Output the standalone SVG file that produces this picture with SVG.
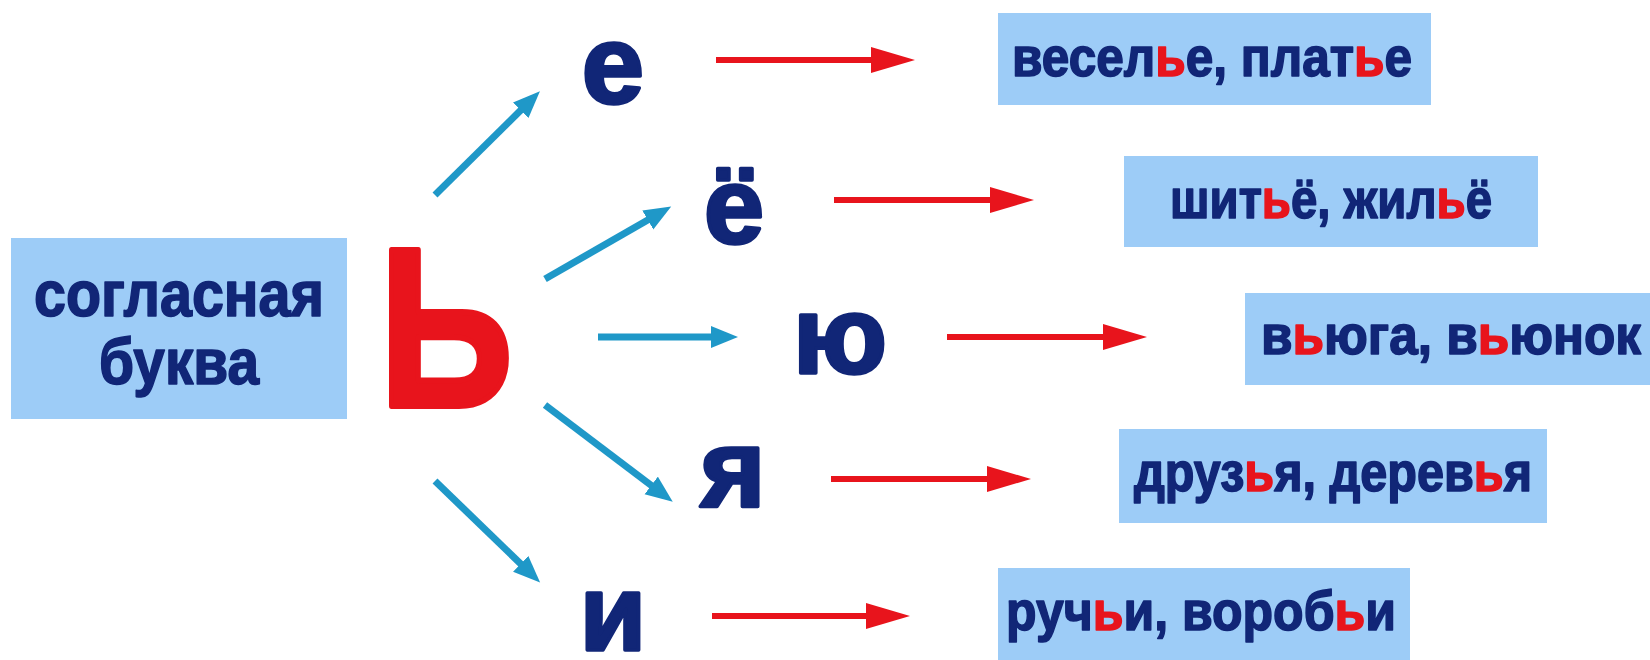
<svg xmlns="http://www.w3.org/2000/svg" width="1650" height="660" viewBox="0 0 1650 660">
<style>
.box{fill:#9DCCF7}
.t{font-family:"Liberation Sans",Arial,sans-serif;font-weight:bold;fill:#112677;stroke:#112677;stroke-width:1.6;stroke-linejoin:round}
.v{stroke-width:3.5}
.r{fill:#E8141C;stroke:#E8141C}
.big{font-family:"Liberation Sans",Arial,sans-serif;font-weight:bold;fill:#E8141C;stroke:#E8141C;stroke-width:6;stroke-linejoin:round}
.blue{stroke:#1F98C8;stroke-width:7;fill:none}
.red{stroke:#E8141C;stroke-width:6;fill:none}
</style>
<defs>
<marker id="hb" markerUnits="userSpaceOnUse" markerWidth="30" markerHeight="24" refX="6" refY="11" orient="auto">
<path d="M0,0 L27,11 L0,22 z" fill="#1F98C8"/>
</marker>
<marker id="hr" markerUnits="userSpaceOnUse" markerWidth="46" markerHeight="30" refX="8" refY="13" orient="auto">
<path d="M0,0 L44,13 L0,26 z" fill="#E8141C"/>
</marker>
</defs>
<rect width="1650" height="660" fill="#FFFFFF"/>

<g id="consonant">
<rect class="box" x="11" y="238" width="336" height="181"/>
<text class="t" x="179" y="316" font-size="64" text-anchor="middle" textLength="290" lengthAdjust="spacingAndGlyphs">согласная</text>
<text class="t" x="179" y="384" font-size="64" text-anchor="middle" textLength="160" lengthAdjust="spacingAndGlyphs">буква</text>
</g>

<g id="soft-sign">
<text class="big" x="446" y="406" font-size="226" text-anchor="middle" textLength="134" lengthAdjust="spacingAndGlyphs">Ь</text>
</g>

<g id="vowel-e"><text class="t v" x="613" y="103" font-size="112" text-anchor="middle">е</text></g>
<g id="vowel-yo"><text class="t v" x="734" y="243" font-size="108" text-anchor="middle">ё</text></g>
<g id="vowel-yu"><text class="t v" x="840" y="373" font-size="110" text-anchor="middle">ю</text></g>
<g id="vowel-ya"><text class="t v" x="733" y="507" font-size="112" text-anchor="middle">я</text></g>
<g id="vowel-i"><text class="t v" x="613" y="650" font-size="108" text-anchor="middle">и</text></g>

<g id="ex-e">
<rect class="box" x="998" y="13" width="433" height="92"/>
<text class="t" x="1212" y="76" font-size="56" text-anchor="middle" textLength="400" lengthAdjust="spacingAndGlyphs">весел<tspan class="r">ь</tspan>е, плат<tspan class="r">ь</tspan>е</text>
</g>
<g id="ex-yo">
<rect class="box" x="1124" y="156" width="414" height="91"/>
<text class="t" x="1331" y="218" font-size="56" text-anchor="middle" textLength="322" lengthAdjust="spacingAndGlyphs">шит<tspan class="r">ь</tspan>ё, жил<tspan class="r">ь</tspan>ё</text>
</g>
<g id="ex-yu">
<rect class="box" x="1245" y="293" width="405" height="92"/>
<text class="t" x="1451" y="354" font-size="56" text-anchor="middle" textLength="380" lengthAdjust="spacingAndGlyphs">в<tspan class="r">ь</tspan>юга, в<tspan class="r">ь</tspan>юнок</text>
</g>
<g id="ex-ya">
<rect class="box" x="1119" y="429" width="428" height="94"/>
<text class="t" x="1333" y="491" font-size="56" text-anchor="middle" textLength="398" lengthAdjust="spacingAndGlyphs">друз<tspan class="r">ь</tspan>я, дерев<tspan class="r">ь</tspan>я</text>
</g>
<g id="ex-i">
<rect class="box" x="998" y="568" width="412" height="92"/>
<text class="t" x="1201" y="630" font-size="56" text-anchor="middle" textLength="390" lengthAdjust="spacingAndGlyphs">руч<tspan class="r">ь</tspan>и, вороб<tspan class="r">ь</tspan>и</text>
</g>

<g id="connectors">
<line class="blue" x1="435" y1="195" x2="525" y2="106" marker-end="url(#hb)"/>
<line class="blue" x1="545" y1="279" x2="653" y2="217" marker-end="url(#hb)"/>
<line class="blue" x1="598" y1="337" x2="717" y2="337" marker-end="url(#hb)"/>
<line class="blue" x1="545" y1="405" x2="656" y2="489" marker-end="url(#hb)"/>
<line class="blue" x1="435" y1="481" x2="525" y2="568" marker-end="url(#hb)"/>
<line class="red" x1="716" y1="60" x2="879" y2="60" marker-end="url(#hr)"/>
<line class="red" x1="834" y1="200" x2="998" y2="200" marker-end="url(#hr)"/>
<line class="red" x1="947" y1="337" x2="1111" y2="337" marker-end="url(#hr)"/>
<line class="red" x1="831" y1="479" x2="995" y2="479" marker-end="url(#hr)"/>
<line class="red" x1="712" y1="616" x2="874" y2="616" marker-end="url(#hr)"/>
</g>
</svg>
